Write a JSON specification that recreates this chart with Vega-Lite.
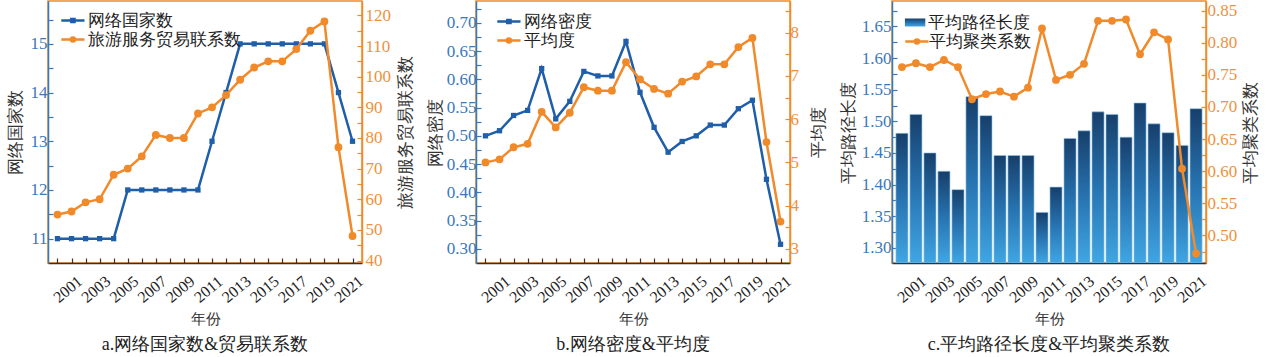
{
  "$schema": "https://vega.github.io/schema/vega-lite/v6.json",
  "padding": {"left": 5, "top": 0, "right": 0, "bottom": 0},
  "spacing": 10,
  "resolve": {"scale": {"color": "independent", "stroke": "independent", "opacity": "independent"}, "legend": {"color": "independent", "stroke": "independent", "opacity": "independent"}},
  "datasets": {
    "net": [
      {"year": 2000, "countries": 11, "links": 55, "density": 0.500, "degree": 5.00, "pathlen": 1.481, "clustering": 0.762},
      {"year": 2001, "countries": 11, "links": 56, "density": 0.509, "degree": 5.07, "pathlen": 1.511, "clustering": 0.768},
      {"year": 2002, "countries": 11, "links": 59, "density": 0.536, "degree": 5.35, "pathlen": 1.450, "clustering": 0.762},
      {"year": 2003, "countries": 11, "links": 60, "density": 0.545, "degree": 5.43, "pathlen": 1.421, "clustering": 0.773},
      {"year": 2004, "countries": 11, "links": 68, "density": 0.619, "degree": 6.17, "pathlen": 1.392, "clustering": 0.762},
      {"year": 2005, "countries": 12, "links": 70, "density": 0.530, "degree": 5.81, "pathlen": 1.539, "clustering": 0.712},
      {"year": 2006, "countries": 12, "links": 74, "density": 0.561, "degree": 6.15, "pathlen": 1.509, "clustering": 0.720},
      {"year": 2007, "countries": 12, "links": 81, "density": 0.614, "degree": 6.74, "pathlen": 1.446, "clustering": 0.724},
      {"year": 2008, "countries": 12, "links": 80, "density": 0.606, "degree": 6.66, "pathlen": 1.446, "clustering": 0.716},
      {"year": 2009, "countries": 12, "links": 80, "density": 0.606, "degree": 6.66, "pathlen": 1.446, "clustering": 0.730},
      {"year": 2010, "countries": 12, "links": 88, "density": 0.667, "degree": 7.32, "pathlen": 1.356, "clustering": 0.822},
      {"year": 2011, "countries": 13, "links": 90, "density": 0.577, "degree": 6.92, "pathlen": 1.396, "clustering": 0.742},
      {"year": 2012, "countries": 14, "links": 94, "density": 0.515, "degree": 6.70, "pathlen": 1.473, "clustering": 0.750},
      {"year": 2013, "countries": 15, "links": 99, "density": 0.471, "degree": 6.59, "pathlen": 1.485, "clustering": 0.767},
      {"year": 2014, "countries": 15, "links": 103, "density": 0.490, "degree": 6.87, "pathlen": 1.515, "clustering": 0.834},
      {"year": 2015, "countries": 15, "links": 105, "density": 0.500, "degree": 6.99, "pathlen": 1.511, "clustering": 0.834},
      {"year": 2016, "countries": 15, "links": 105, "density": 0.519, "degree": 7.27, "pathlen": 1.475, "clustering": 0.836},
      {"year": 2017, "countries": 15, "links": 109, "density": 0.519, "degree": 7.27, "pathlen": 1.529, "clustering": 0.782},
      {"year": 2018, "countries": 15, "links": 115, "density": 0.548, "degree": 7.67, "pathlen": 1.496, "clustering": 0.816},
      {"year": 2019, "countries": 15, "links": 118, "density": 0.563, "degree": 7.88, "pathlen": 1.482, "clustering": 0.805},
      {"year": 2020, "countries": 14, "links": 77, "density": 0.423, "degree": 5.47, "pathlen": 1.462, "clustering": 0.604},
      {"year": 2021, "countries": 13, "links": 48, "density": 0.308, "degree": 3.63, "pathlen": 1.520, "clustering": 0.472}
    ]
  },
  "config": {
    "font": "Liberation Serif",
    "view": {"stroke": "#f08a2a", "strokeWidth": 1.5},
    "axis": {
      "grid": false,
      "labelFont": "Liberation Serif",
      "labelFontSize": 17,
      "titleFont": "Liberation Serif",
      "titleFontSize": 17,
      "titleFontWeight": "normal",
      "titleColor": "#333333",
      "tickSize": -5,
      "domainWidth": 1.5,
      "tickWidth": 1.2
    },
    "axisX": {
      "labelAngle": -40,
      "labelAlign": "center",
      "labelBaseline": "middle",
      "labelPadding": 31,
      "labelOffset": -4,
      "labelFontSize": 16,
      "labelColor": "#222222",
      "labelOverlap": false,
      "domainColor": "#333333",
      "tickColor": "#333333",
      "titleFontSize": 15,
      "titlePadding": 6
    },
    "legend": {
      "orient": "none",
      "title": null,
      "labelFont": "Liberation Serif",
      "labelFontSize": 17,
      "labelColor": "#222222",
      "symbolSize": 256,
      "symbolStrokeWidth": 2.5,
      "symbolOpacity": 1,
      "labelOffset": 10,
      "padding": 0
    },
    "title": {"font": "Liberation Serif", "fontSize": 18, "fontWeight": "normal", "color": "#222222", "orient": "bottom", "offset": 10},
    "line": {"strokeWidth": 2.5}
  },
  "hconcat": [
    {
      "width": 314,
      "height": 262,
      "title": {"text": "a.网络国家数&贸易联系数", "orient": "bottom"},
      "data": {"name": "net"},
      "layer": [
        {
          "mark": {"type": "line", "point": {"shape": "square", "filled": true, "size": 28}},
          "encoding": {
            "x": {"field": "year", "type": "ordinal", "scale": {"type": "point", "padding": 0.675},
                  "axis": {"title": "年份", "labelExpr": "datum.value % 2 == 1 ? datum.label : ''"}},
            "y": {"field": "countries", "type": "quantitative",
                  "scale": {"domain": [10.5, 15.88], "nice": false, "zero": false},
                  "axis": {"orient": "left", "title": "网络国家数", "values": [11, 11.5, 12, 12.5, 13, 13.5, 14, 14.5, 15, 15.5],
                           "labelExpr": "datum.value % 1 == 0 ? format(datum.value, 'd') : ''",
                           "labelColor": "#3a78bb", "domainColor": "#3a78bb", "tickColor": "#3a78bb", "labelPadding": 6, "titlePadding": 6}},
            "color": {"datum": "网络国家数", "type": "nominal",
                      "scale": {"range": ["#1f5ea8"]},
                      "legend": {"legendX": 11, "legendY": 10, "symbolType": "M-0.9,0H2M0.35,-0.2H0.75V0.2H0.35Z", "symbolFillColor": "#1f5ea8", "symbolStrokeColor": "#1f5ea8"}}
          }
        },
        {
          "mark": {"type": "line", "color": "#f08a2a", "point": {"shape": "circle", "filled": true, "color": "#f08a2a", "size": 34}},
          "encoding": {
            "x": {"field": "year", "type": "ordinal"},
            "y": {"field": "links", "type": "quantitative",
                  "scale": {"domain": [39.2, 124.7], "nice": false, "zero": false},
                  "axis": {"orient": "right", "title": "旅游服务贸易联系数", "titleAngle": 270, "titleBaseline": "top",
                           "values": [40, 45, 50, 55, 60, 65, 70, 75, 80, 85, 90, 95, 100, 105, 110, 115, 120],
                           "labelExpr": "datum.value % 10 == 0 ? format(datum.value, 'd') : ''",
                           "labelColor": "#f0913a", "domainColor": "#f08a2a", "tickColor": "#f08a2a", "labelPadding": 8, "titlePadding": 7}},
            "stroke": {"datum": "旅游服务贸易联系数", "type": "nominal",
                       "scale": {"range": ["#f08a2a"]},
                       "legend": {"legendX": 11, "legendY": 29, "symbolType": "M-0.9,0H2M0.8,0A0.25,0.25 0 1,1 0.3,0A0.25,0.25 0 1,1 0.8,0Z", "symbolFillColor": "#f08a2a", "symbolStrokeColor": "#f08a2a"}}
          }
        }
      ],
      "resolve": {"scale": {"y": "independent"}}
    },
    {
      "width": 314,
      "height": 262,
      "title": {"text": "b.网络密度&平均度", "orient": "bottom"},
      "data": {"name": "net"},
      "layer": [
        {
          "mark": {"type": "line", "point": {"shape": "square", "filled": true, "size": 28}},
          "encoding": {
            "x": {"field": "year", "type": "ordinal", "scale": {"type": "point", "padding": 0.675},
                  "axis": {"title": "年份", "labelExpr": "datum.value % 2 == 1 ? datum.label : ''"}},
            "y": {"field": "density", "type": "quantitative",
                  "scale": {"domain": [0.2749, 0.7386], "nice": false, "zero": false},
                  "axis": {"orient": "left", "title": "网络密度",
                           "values": [0.3, 0.325, 0.35, 0.375, 0.4, 0.425, 0.45, 0.475, 0.5, 0.525, 0.55, 0.575, 0.6, 0.625, 0.65, 0.675, 0.7, 0.725],
                           "labelExpr": "abs(datum.value * 20 - round(datum.value * 20)) < 0.001 ? format(datum.value, '.2f') : ''",
                           "labelColor": "#3a78bb", "domainColor": "#3a78bb", "tickColor": "#3a78bb", "labelPadding": 5, "titlePadding": 2}},
            "color": {"datum": "网络密度", "type": "nominal",
                      "scale": {"range": ["#1f5ea8"]},
                      "legend": {"legendX": 19, "legendY": 11, "symbolType": "M-0.9,0H2M0.35,-0.2H0.75V0.2H0.35Z", "symbolFillColor": "#1f5ea8", "symbolStrokeColor": "#1f5ea8"}}
          }
        },
        {
          "mark": {"type": "line", "color": "#f08a2a", "point": {"shape": "circle", "filled": true, "color": "#f08a2a", "size": 34}},
          "encoding": {
            "x": {"field": "year", "type": "ordinal"},
            "y": {"field": "degree", "type": "quantitative",
                  "scale": {"domain": [2.671, 8.736], "nice": false, "zero": false},
                  "axis": {"orient": "right", "title": "平均度", "titleAngle": 270, "titleBaseline": "top",
                           "values": [3, 3.5, 4, 4.5, 5, 5.5, 6, 6.5, 7, 7.5, 8, 8.5],
                           "labelExpr": "datum.value % 1 == 0 ? format(datum.value, 'd') : ''",
                           "labelColor": "#f0913a", "domainColor": "#f08a2a", "tickColor": "#f08a2a", "labelPadding": 5, "titlePadding": 12}},
            "stroke": {"datum": "平均度", "type": "nominal",
                       "scale": {"range": ["#f08a2a"]},
                       "legend": {"legendX": 19, "legendY": 30, "symbolType": "M-0.9,0H2M0.8,0A0.25,0.25 0 1,1 0.3,0A0.25,0.25 0 1,1 0.8,0Z", "symbolFillColor": "#f08a2a", "symbolStrokeColor": "#f08a2a"}}
          }
        }
      ],
      "resolve": {"scale": {"y": "independent"}}
    },
    {
      "width": 314,
      "height": 262,
      "title": {"text": "c.平均路径长度&平均聚类系数", "orient": "bottom"},
      "data": {"name": "net"},
      "layer": [
        {
          "mark": {"type": "bar", "clip": true,
                   "fill": {"gradient": "linear", "x1": 0, "y1": 0, "x2": 0, "y2": 1,
                             "stops": [{"offset": 0, "color": "#173f6b"}, {"offset": 0.5, "color": "#2773b0"}, {"offset": 1, "color": "#40a6e2"}]},
                   "stroke": "#8fc6ec", "strokeWidth": 0.6},
          "encoding": {
            "x": {"field": "year", "type": "ordinal", "scale": {"type": "band", "paddingInner": 0.14, "paddingOuter": 0.28},
                  "axis": {"title": "年份", "bandPosition": 0.5, "labelExpr": "datum.value % 2 == 1 ? datum.label : ''"}},
            "y": {"field": "pathlen", "type": "quantitative",
                  "scale": {"domain": [1.276, 1.6903], "nice": false, "zero": false},
                  "axis": {"orient": "left", "title": "平均路径长度",
                           "values": [1.3, 1.325, 1.35, 1.375, 1.4, 1.425, 1.45, 1.475, 1.5, 1.525, 1.55, 1.575, 1.6, 1.625, 1.65, 1.675],
                           "labelExpr": "abs(datum.value * 20 - round(datum.value * 20)) < 0.001 ? format(datum.value, '.2f') : ''",
                           "labelColor": "#3a78bb", "domainColor": "#3a78bb", "tickColor": "#3a78bb", "labelPadding": 6, "titlePadding": 4}},
            "y2": {"datum": 1.276},
            "opacity": {"datum": "平均路径长度", "type": "nominal",
                        "scale": {"range": [1]},
                        "legend": {"legendX": 7, "legendY": 12, "symbolType": "M-0.45,-0.5H2.1V0.5H-0.45Z", "symbolStrokeColor": "transparent",
                                   "symbolFillColor": {"gradient": "linear", "x1": 0, "y1": 0, "x2": 0, "y2": 1, "stops": [{"offset": 0, "color": "#173f6b"}, {"offset": 1, "color": "#40a6e2"}]}}}
          }
        },
        {
          "mark": {"type": "line", "color": "#f08a2a", "point": {"shape": "circle", "filled": true, "color": "#f08a2a", "size": 34}},
          "encoding": {
            "x": {"field": "year", "type": "ordinal"},
            "y": {"field": "clustering", "type": "quantitative",
                  "scale": {"domain": [0.4572, 0.8648], "nice": false, "zero": false},
                  "axis": {"orient": "right", "title": "平均聚类系数", "titleAngle": 270, "titleBaseline": "top",
                           "values": [0.475, 0.5, 0.525, 0.55, 0.575, 0.6, 0.625, 0.65, 0.675, 0.7, 0.725, 0.75, 0.775, 0.8, 0.825, 0.85],
                           "labelExpr": "abs(datum.value * 20 - round(datum.value * 20)) < 0.001 ? format(datum.value, '.2f') : ''",
                           "labelColor": "#f0913a", "domainColor": "#f08a2a", "tickColor": "#f08a2a", "labelPadding": 6, "titlePadding": 6}},
            "stroke": {"datum": "平均聚类系数", "type": "nominal",
                       "scale": {"range": ["#f08a2a"]},
                       "legend": {"legendX": 11, "legendY": 31, "labelOffset": 7, "symbolType": "M-0.9,0H2M0.8,0A0.25,0.25 0 1,1 0.3,0A0.25,0.25 0 1,1 0.8,0Z", "symbolFillColor": "#f08a2a", "symbolStrokeColor": "#f08a2a"}}
          }
        }
      ],
      "resolve": {"scale": {"y": "independent"}}
    }
  ]
}
